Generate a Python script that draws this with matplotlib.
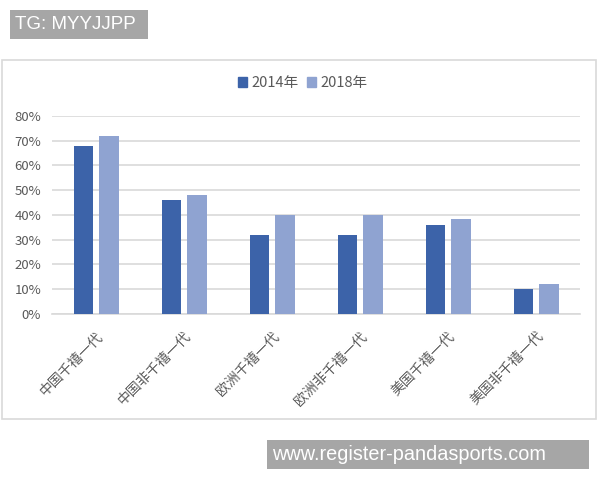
import matplotlib.pyplot as plt
import matplotlib.transforms as mtransforms
import numpy as np
from matplotlib.patches import Rectangle, Patch

plt.rcParams["font.family"] = ["Noto Sans CJK SC", "DejaVu Sans"]

# data
categories = ["中国千禧一代", "中国非千禧一代", "欧洲千禧一代",
              "欧洲非千禧一代", "美国千禧一代", "美国非千禧一代"]
vals_2014 = [0.68, 0.46, 0.32, 0.32, 0.36, 0.10]
vals_2018 = [0.72, 0.48, 0.40, 0.40, 0.385, 0.12]
series_labels = ["2014年", "2018年"]
yticks = [0, 0.1, 0.2, 0.3, 0.4, 0.5, 0.6, 0.7, 0.8]

c_dark = "#3c63a9"
c_light = "#8fa3d1"
txt = "#595959"

fig = plt.figure(figsize=(6, 4.8), dpi=100)

# chart frame
fig.patches.append(Rectangle((0.004, 0.127), 0.99, 0.748, transform=fig.transFigure,
                             facecolor="white", edgecolor="#d9d9d9", linewidth=1.2,
                             zorder=-5))

ax = fig.add_axes([0.087, 0.346, 0.880, 0.4125])
ax.set_zorder(2)
x = np.arange(len(categories))
w = 0.22
ax.bar(x - 0.145, vals_2014, width=w, color=c_dark, zorder=3)
ax.bar(x + 0.145, vals_2018, width=w, color=c_light, zorder=3)

ax.set_xlim(-0.5, len(categories) - 0.5)
ax.set_ylim(0, 0.8)
ax.set_yticks(yticks, [f"{int(round(v * 100))}%" for v in yticks])
ax.set_xticks(x, categories)
shift = mtransforms.ScaledTranslation(-12 / 100, 0, fig.dpi_scale_trans)
for lab in ax.get_xticklabels():
    lab.set_rotation(45)
    lab.set_ha("right")
    lab.set_rotation_mode("anchor")
    lab.set_fontsize(10)
    lab.set_color(txt)
    lab.set_transform(lab.get_transform() + shift)
ax.tick_params(axis="x", length=0, pad=11)
ax.tick_params(axis="y", length=0, labelsize=9.5, labelcolor=txt, pad=8)
ax.grid(axis="y", color="#d9d9d9", linewidth=1.2, zorder=0)
for s in ["top", "right", "left"]:
    ax.spines[s].set_visible(False)
ax.spines["bottom"].set_color("#d9d9d9")
ax.spines["bottom"].set_linewidth(1.2)
ax.set_facecolor("none")

handles = [Patch(color=c_dark), Patch(color=c_light)]
fig.legend(handles, series_labels, loc="center", bbox_to_anchor=(0.505, 0.827),
           ncol=2, frameon=False, fontsize=10.5, handlelength=0.6, handleheight=0.6,
           handletextpad=0.3, columnspacing=0.6, labelcolor=txt)

# watermark boxes
fig.patches.append(Rectangle((10 / 600, 1 - 39 / 480), 138 / 600, 29 / 480,
                             transform=fig.transFigure, facecolor="#a6a6a6",
                             edgecolor="none"))
fig.text(15 / 600, 1 - 24.5 / 480, "TG: MYYJJPP", fontsize=13.5, color="white",
         va="center", ha="left", family="Liberation Sans")
fig.patches.append(Rectangle((267 / 600, 1 - 469 / 480), 322 / 600, 29 / 480,
                             transform=fig.transFigure, facecolor="#a6a6a6",
                             edgecolor="none"))
fig.text(272 / 600, 1 - 454.5 / 480, "www.register-pandasports.com", fontsize=14.3,
         color="white", va="center", ha="left", family="Liberation Sans")

fig.savefig("out.png", dpi=100)
